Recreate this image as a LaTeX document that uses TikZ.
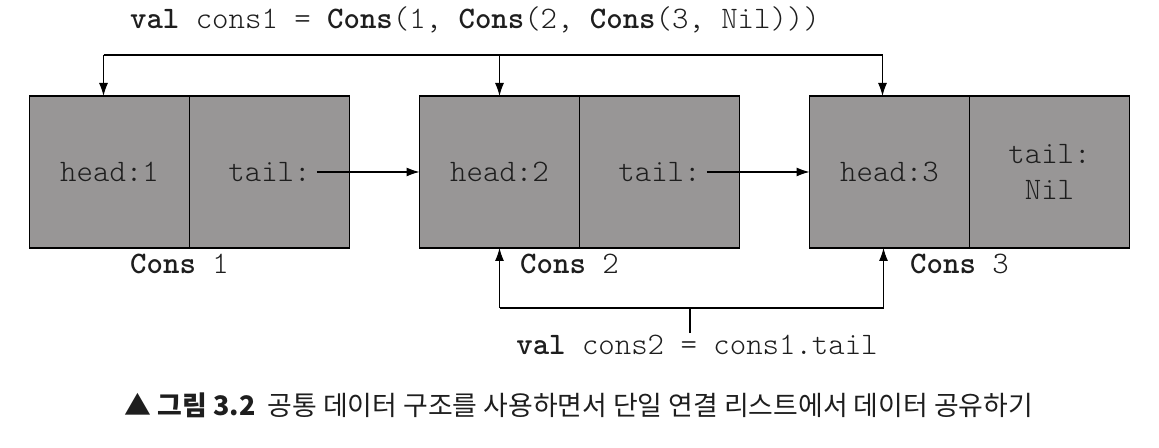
\documentclass[tikz,border=0pt]{standalone}
\usepackage{fontspec}
\setmonofont{Latin Modern Mono Light}
\newfontfamily\cjk{Noto Sans CJK KR}
\usetikzlibrary{positioning, calc, arrows.meta}
\definecolor{boxgray}{RGB}{152,150,150}
\definecolor{inkdark}{RGB}{30,30,30}
\newcommand{\codefont}{\fontsize{17.8}{20}\selectfont\ttfamily}

\begin{document}
\begin{tikzpicture}[
    cell/.style={draw=black, line width=0.8pt, fill=boxgray, minimum width=3.2cm,
                 minimum height=3.04cm, inner sep=0pt, outer sep=0pt},
    code/.style={font=\codefont, text=inkdark},
    arr/.style={-{Latex[length=2.6mm,width=1.8mm]}, line width=0.6pt}]
    \useasboundingbox (0,0) rectangle (23.18,8.96);
    % the three cons cells
    \node[cell] (h1) at (2.19,5.52) {};
    \node[cell, right=0pt of h1] (t1) {};
    \node[cell, right=1.4cm of t1] (h2) {};
    \node[cell, right=0pt of h2] (t2) {};
    \node[cell, right=1.4cm of t2] (h3) {};
    \node[cell, right=0pt of h3] (t3) {};
    \node[code] (h1txt) at (h1) {head:1};
    \node[code] (t1txt) at (t1) {tail:};
    \node[code] (h2txt) at (h2) {head:2};
    \node[code] (t2txt) at (t2) {tail:};
    \node[code] (h3txt) at (h3) {head:3};
    \node[code, align=center] (t3txt) at (t3) {tail:\\Nil};
    \node[code, below=0pt of h1.south east, xshift=-0.2cm] (lab1) {\textbf{Cons} 1};
    \node[code, below=0pt of h2.south east, xshift=-0.2cm] (lab2) {\textbf{Cons} 2};
    \node[code, below=0pt of h3.south east, xshift=-0.2cm] (lab3) {\textbf{Cons} 3};
    \draw[arr] (t1txt.east) -- (h2.west);
    \draw[arr] (t2txt.east) -- (h3.west);
    % val cons1
    \node[code] (code1) at (9.5,8.56) {\textbf{val} cons1 = \textbf{Cons}(1, \textbf{Cons}(2, \textbf{Cons}(3, Nil)))};
    \coordinate (bus1) at ($(h1.north)+(-0.12,0.82)$);
    \draw[arr] (bus1) -- (bus1 |- h1.north);
    \draw[arr] (bus1) -| ([xshift=-0.14cm]h3.north);
    \draw[arr] (h2.north |- bus1) -- (h2.north);
    % val cons2
    \node[code, inner sep=1pt] (code2) at (13.94,2.06) {\textbf{val} cons2 = cons1.tail};
    \coordinate (bus2) at ($(h2.south)+(0,-1.2)$);
    \draw[arr] (bus2) -- (h2.south);
    \draw[arr] (bus2) -| ([xshift=-0.12cm]h3.south);
    \draw[line width=0.6pt] ([xshift=-0.14cm]code2.north) -- ([xshift=-0.14cm]code2.north |- bus2);
    % caption
    \node[font=\cjk\fontsize{15.3}{18}\selectfont, text=inkdark] (caption) at (11.58,0.86)
        {▲ \textbf{그림 3.2}\ \ 공통 데이터 구조를 사용하면서 단일 연결 리스트에서 데이터 공유하기};
\end{tikzpicture}
\end{document}
